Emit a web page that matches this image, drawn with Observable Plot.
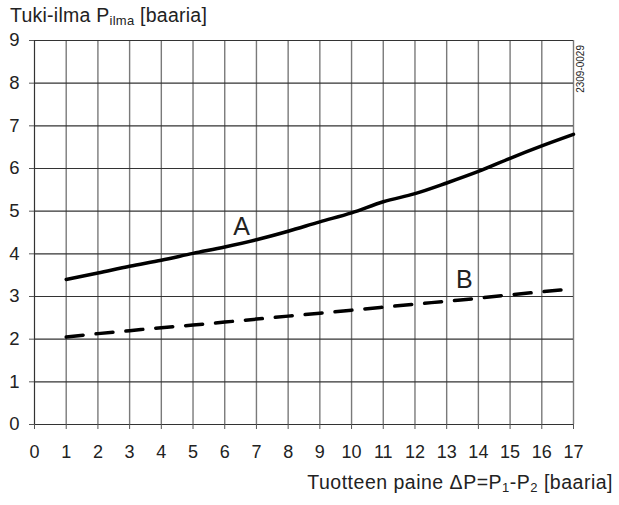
<!DOCTYPE html>
<html>
<head>
<meta charset="utf-8">
<script src="https://cdn.jsdelivr.net/npm/d3@7"></script>
<script src="https://cdn.jsdelivr.net/npm/@observablehq/plot@0.6"></script>
<style>
  html, body { margin: 0; padding: 0; background: #fff; }
  #wrap { position: relative; width: 619px; height: 505px; font-family: "Liberation Sans", Arial, Helvetica, sans-serif; color: #222; }
  #wrap svg { position: absolute; left: 0; top: 0; }
  .title { position: absolute; left: 10px; top: 5px; font-size: 19.5px; line-height: 20px; letter-spacing: 0.25px; white-space: nowrap; }
  .xlabel { position: absolute; right: 6px; top: 472px; font-size: 19.5px; line-height: 20px; letter-spacing: 0.5px; white-space: nowrap; }
  sub { font-size: 13px; vertical-align: -3px; line-height: 0; }
  .code { position: absolute; left: 576px; top: 45px; font-size: 10px; line-height: 10px; writing-mode: vertical-rl; transform: rotate(180deg); white-space: nowrap; }
</style>
</head>
<body>
<div id="wrap">
  <div class="title">Tuki-ilma P<sub>ilma</sub> [baaria]</div>
  <div class="xlabel">Tuotteen paine ΔP=P<sub>1</sub>-P<sub>2</sub> [baaria]</div>
  <div class="code">2309-0029</div>
</div>
<script>
const xTicks = [0,1,2,3,4,5,6,7,8,9,10,11,12,13,14,15,16,17];
const yTicks = [0,1,2,3,4,5,6,7,8,9];
const xVals = [1,2,3,4,5,6,7,8,9,10,11,12,13,14,15,16,17];
const curveA = [3.40,3.55,3.71,3.85,4.01,4.16,4.33,4.53,4.75,4.96,5.22,5.41,5.66,5.93,6.24,6.53,6.80];
const curveB = [2.05,2.13,2.20,2.27,2.33,2.40,2.47,2.54,2.61,2.68,2.75,2.82,2.89,2.96,3.04,3.11,3.18];
const labelNames = ["A","B"];
const labelX = [6.53,13.56];
const labelY = [4.64,3.39];

const dataA = xVals.map((x,i)=>({x, y: curveA[i]}));
const dataB = xVals.map((x,i)=>({x, y: curveB[i]}));
const labels = labelNames.map((t,i)=>({t, x: labelX[i], y: labelY[i]}));

const chart = Plot.plot({
  width: 619,
  height: 505,
  marginLeft: 34,
  marginRight: 46,
  marginTop: 40,
  marginBottom: 81,
  style: { fontFamily: '"Liberation Sans", Arial, Helvetica, sans-serif', color: "#222", background: "transparent" },
  x: { domain: [0,17] },
  y: { domain: [0,9] },
  marks: [
    Plot.ruleX(xTicks, { x: d=>d, y1: 0, y2: 9, stroke: d => d === 0 ? "#333" : "#7a7a7a", strokeWidth: d => d === 0 ? 1.2 : 1.4 }),
    Plot.ruleY(yTicks, { y: d=>d, stroke: "#333", strokeWidth: 1.1 }),
    Plot.axisX({ ticks: xTicks, tickSize: 5, tickPadding: 16, fontSize: 18, label: null, stroke: "#555", tickFormat: d=>String(d) }),
    Plot.axisY({ ticks: yTicks, tickSize: 5, tickPadding: 10, fontSize: 18.5, label: null, stroke: "#555", tickFormat: d=>String(d) }),
    Plot.line(dataA, { x: "x", y: "y", stroke: "#000", strokeWidth: 3.5, curve: "monotone-x" }),
    Plot.line(dataB, { x: "x", y: "y", stroke: "#000", strokeWidth: 3.5, strokeDasharray: "17,13", curve: "monotone-x" }),
    Plot.text(labels, { x: "x", y: "y", text: "t", fontSize: 25, fill: "#222" })
  ]
});
document.getElementById("wrap").prepend(chart);
</script>
</body>
</html>
